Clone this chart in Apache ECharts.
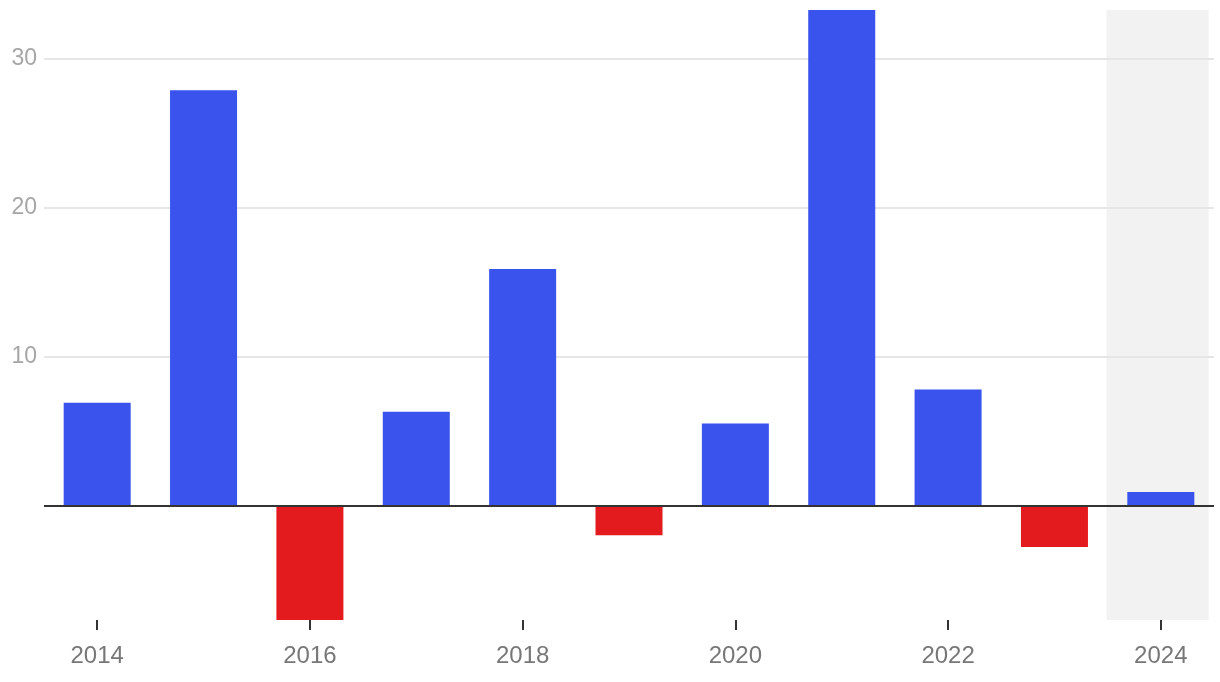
<!DOCTYPE html>
<html>
<head>
<meta charset="utf-8">
<script src="https://cdn.jsdelivr.net/npm/echarts@6/dist/echarts.min.js"></script>
<style>html,body{margin:0;padding:0;background:#fff}#c{width:1220px;height:682px}</style>
</head>
<body>
<div id="c"></div>
<script>
const categories = ['2014','2015','2016','2017','2018','2019','2020','2021','2022','2023','2024'];
const values = [6.9, 27.9, -7.7, 6.3, 15.9, -2.0, 5.5, 33.3, 7.8, -2.8, 0.9];
const shadedCategories = ['2024'];
const yTickLabels = [10, 20, 30];

const BLUE = '#3a53ec', RED = '#e31b1e';
const FONT = '"Liberation Sans", Arial, Helvetica, sans-serif';

const barData = values.map(v => ({ value: v, itemStyle: { color: v >= 0 ? BLUE : RED } }));
const shadeData = shadedCategories.map(c => [categories.indexOf(c)]);
const yMin = Math.min(...values), yMax = Math.max(...values);

const chart = echarts.init(document.getElementById('c'));
chart.setOption({
  animation: false,
  grid: { left: 44, right: 6, top: 10, bottom: 62 },
  xAxis: {
    type: 'category',
    data: categories,
    axisLine: { show: false, onZero: false },
    axisTick: { show: true, alignWithLabel: true, interval: 1, length: 10, lineStyle: { color: '#333', width: 2 } },
    axisLabel: { interval: 1, color: '#777', fontSize: 24, fontFamily: FONT, margin: 24 },
    splitLine: { show: false }
  },
  yAxis: {
    type: 'value',
    min: yMin,
    max: yMax,
    splitNumber: 4,
    z: 2,
    axisLine: { show: false },
    axisTick: { show: false },
    axisLabel: {
      color: '#a6a6a6', fontSize: 23, fontFamily: FONT, margin: 7,
      showMinLabel: false, showMaxLabel: false,
      formatter: v => yTickLabels.includes(Math.round(v * 1000) / 1000) ? String(v) : ''
    },
    splitLine: { show: true, showMinLine: false, showMaxLine: false, lineStyle: { color: '#e6e6e6', width: 2 } }
  },
  series: [{
    type: 'custom',
    data: shadeData,
    silent: true,
    z: 1,
    renderItem: (params, api) => {
      const cx = api.coord([api.value(0), 0])[0];
      const band = api.size([1, 0])[0];
      const cs = params.coordSys;
      return {
        type: 'rect',
        shape: { x: cx - band * 0.51, y: cs.y, width: band * 0.96, height: cs.height },
        style: { fill: '#f2f2f2' }
      };
    }
  }, {
    type: 'bar',
    data: barData,
    barWidth: '63%',
    z: 3,
    markLine: {
      silent: true,
      symbol: ['none', 'none'],
      label: { show: false },
      lineStyle: { color: '#333', width: 2, type: 'solid' },
      data: [{ yAxis: 0 }]
    }
  }]
});
</script>
</body>
</html>
